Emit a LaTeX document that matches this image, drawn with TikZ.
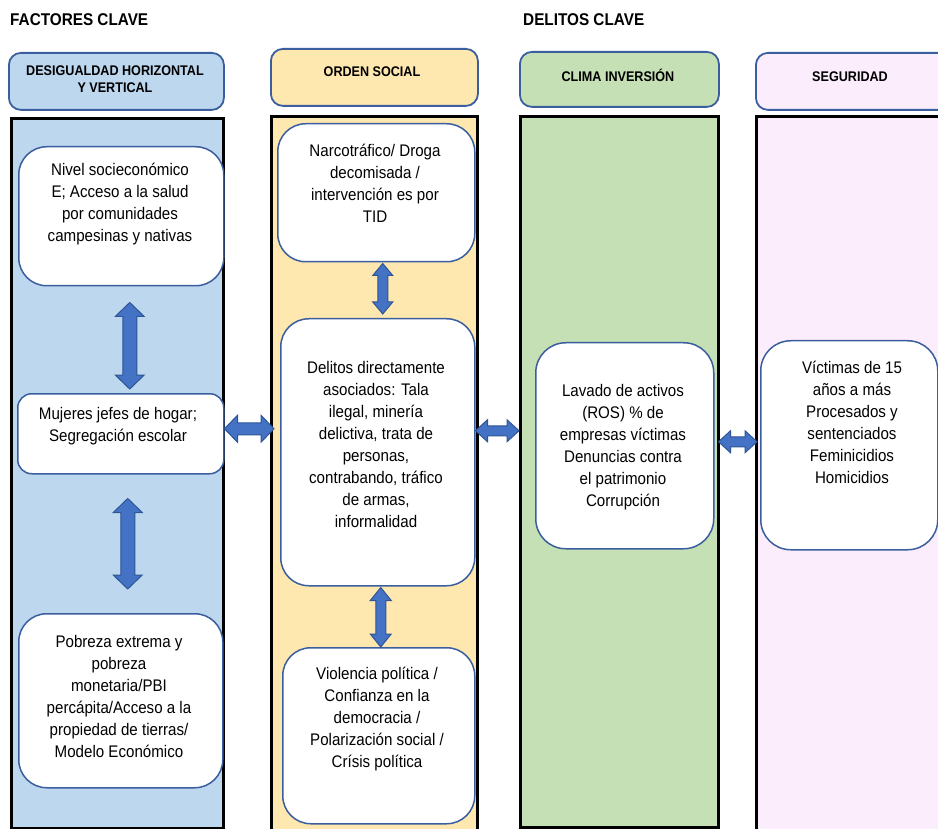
\documentclass[tikz,border=0pt]{standalone}
\usepackage{fontspec}
\setmainfont{Liberation Sans}[FakeStretch=0.9]
\usetikzlibrary{calc}
\definecolor{colblue}{HTML}{BDD7EE}
\definecolor{colorange}{HTML}{FFE8B0}
\definecolor{colgreen}{HTML}{C5E0B4}
\definecolor{colpink}{HTML}{FCEDFC}
\definecolor{boxline}{HTML}{3A5E9E}
\definecolor{arrowfill}{HTML}{4472C4}
\definecolor{arrowline}{HTML}{2F5597}
\tikzset{
 colbox/.style={draw=black, line width=3pt, anchor=north west, inner sep=0},
 hdr/.style={draw=boxline, line width=1.8pt, rounded corners=12pt, anchor=north west, inner sep=0},
 hdrtxt/.style={font=\bfseries\fontsize{14}{17}\selectfont, align=center, inner sep=0},
 ttl/.style={font=\bfseries\fontsize{17}{20}\selectfont, inner sep=0, anchor=west},
 wbox/.style={draw=boxline, line width=1.5pt, fill=white, rounded corners=28pt, anchor=north west, inner sep=0},
 txt/.style={font=\fontsize{16.8}{22}\selectfont, align=center, inner sep=0},
 blockarrow/.style={fill=arrowfill, draw=arrowline, line width=1pt, line join=miter},
}
\newcommand\blkarrowV[5]{%
 \path[blockarrow] let \p1=(#1), \p2=(#2) in
 (\x1,\y1) -- (\x1+#4pt,\y1-#5pt) -- (\x1+#3pt,\y1-#5pt) -- (\x1+#3pt,\y2+#5pt) -- (\x1+#4pt,\y2+#5pt)
 -- (\x1,\y2) -- (\x1-#4pt,\y2+#5pt) -- (\x1-#3pt,\y2+#5pt) -- (\x1-#3pt,\y1-#5pt) -- (\x1-#4pt,\y1-#5pt) -- cycle;}
\newcommand\blkarrowH[5]{%
 \path[blockarrow] let \p1=(#1), \p2=(#2) in
 (\x1,\y1) -- (\x1+#5pt,\y1+#4pt) -- (\x1+#5pt,\y1+#3pt) -- (\x2-#5pt,\y1+#3pt) -- (\x2-#5pt,\y1+#4pt)
 -- (\x2,\y1) -- (\x2-#5pt,\y1-#4pt) -- (\x2-#5pt,\y1-#3pt) -- (\x1+#5pt,\y1-#3pt) -- (\x1+#5pt,\y1-#4pt) -- cycle;}
\begin{document}
\begin{tikzpicture}[x=1pt,y=-1pt]
\useasboundingbox (0,0) rectangle (938,829);
\clip (0,0) rectangle (938,829);
\fill[white] (0,0) rectangle (938,829);
% titles
\node[ttl] (ft) at (10,20) {FACTORES CLAVE};
\node[ttl] (dt) at (523,20) {DELITOS CLAVE};
% headers
\node[hdr, fill=colblue, minimum width=215pt, minimum height=57pt] (h1) at (8,52) {};
\node[hdr, fill=colorange, minimum width=207pt, minimum height=57pt] (h2) at (270,48) {};
\node[hdr, fill=colgreen, minimum width=199pt, minimum height=55pt] (h3) at (519,51) {};
\node[hdr, fill=colpink, minimum width=200pt, minimum height=57pt] (h4) at (755,52) {};
\node[hdrtxt] (h1t) at (115,79.5) {DESIGUALDAD HORIZONTAL\\Y VERTICAL};
\node[hdrtxt] (h2t) at (372,72) {ORDEN SOCIAL};
\node[hdrtxt] (h3t) at (618,75) {CLIMA INVERSIÓN};
\node[hdrtxt] (h4t) at (850,77) {SEGURIDAD};
% columns
\node[colbox, fill=colblue, minimum width=212pt, minimum height=710pt] (c1) at (10,117) {};
\node[colbox, fill=colorange, minimum width=206pt, minimum height=725pt] (c2) at (270,115) {};
\node[colbox, fill=colgreen, minimum width=198pt, minimum height=711pt] (c3) at (519,115) {};
\node[colbox, fill=colpink, minimum width=200pt, minimum height=725pt] (c4) at (755,115) {};
% boxes
\node[wbox, minimum width=205pt, minimum height=139pt] (b1) at (18,146) {};
\node[wbox, rounded corners=14pt, minimum width=206pt, minimum height=80pt] (b2) at (17,393) {};
\node[wbox, minimum width=204pt, minimum height=174pt] (b3) at (18,613) {};
\node[wbox, minimum width=197pt, minimum height=138pt] (bA) at (277,123) {};
\node[wbox, minimum width=194pt, minimum height=267pt] (bB) at (280,318) {};
\node[wbox, minimum width=192pt, minimum height=176pt] (bC) at (282,647) {};
\node[wbox, rounded corners=30pt, minimum width=178pt, minimum height=206pt] (bG) at (535,342) {};
\node[wbox, rounded corners=30pt, minimum width=177pt, minimum height=209pt] (bP) at (760,340) {};
% texts
\node[txt] (t1) at (120,204) {Nivel socieconómico\\E; Acceso a la salud\\por comunidades\\campesinas y nativas};
\node[txt] (t2) at (118,426) {Mujeres jefes de hogar;\\Segregación escolar};
\node[txt] (t3) at (119,696) {Pobreza extrema y\\pobreza\\monetaria/PBI\\percápita/Acceso a la\\propiedad de tierras/\\Modelo Económico};
\node[txt] (tA) at (375,183) {Narcotráfico/ Droga\\decomisada /\\intervención es por\\TID};
\node[txt] (tB) at (376,444.5) {Delitos directamente\\asociados: Tala\\ilegal, minería\\delictiva, trata de\\personas,\\contrabando, tráfico\\de armas,\\informalidad};
\node[txt] (tC) at (377,719) {Violencia política /\\Confianza en la\\democracia /\\Polarización social /\\Crísis política};
\node[txt] (tG) at (623,447) {Lavado de activos\\(ROS) \% de\\empresas víctimas\\Denuncias contra\\el patrimonio\\Corrupción};
\node[txt] (tP) at (852,422.5) {Víctimas de 15\\años a más\\Procesados y\\sentenciados\\Feminicidios\\Homicidios};
% arrow end points
\coordinate (v1t) at ($(b1.south)+(8.5,16)$);
\coordinate (v1b) at ($(b2.north)+(9,-4)$);
\coordinate (v2t) at ($(b2.south)+(7,24)$);
\coordinate (v2b) at ($(b3.north)+(7,-24)$);
\coordinate (v3t) at ($(bA.south)+(6.5,1)$);
\coordinate (v3b) at ($(bB.north)+(5,-4)$);
\coordinate (v4t) at ($(bB.south)+(3,1)$);
\coordinate (v4b) at ($(bC.north)+(2,0)$);
\coordinate (h1l) at ($(b2.east)+(0,-5)$);
\coordinate (h1r) at ($(bB.west)+(-6,0)$);
\coordinate (h2l) at ($(bB.east)+(0,-21.5)$);
\coordinate (h2r) at ($(bG.west)+(-16,0)$);
\coordinate (h3l) at ($(bG.east)+(4,-4)$);
\coordinate (h3r) at ($(bP.west)+(-3,0)$);
% arrows
\blkarrowV{v1t}{v1b}{7}{14.5}{14}
\blkarrowV{v2t}{v2b}{7}{14.5}{14}
\blkarrowV{v3t}{v3b}{5}{10}{12}
\blkarrowV{v4t}{v4b}{5}{10.5}{13}
\blkarrowH{h1l}{h1r}{6}{13.5}{13}
\blkarrowH{h2l}{h2r}{5}{11}{12}
\blkarrowH{h3l}{h3r}{5}{11}{12}
\end{tikzpicture}
\end{document}
